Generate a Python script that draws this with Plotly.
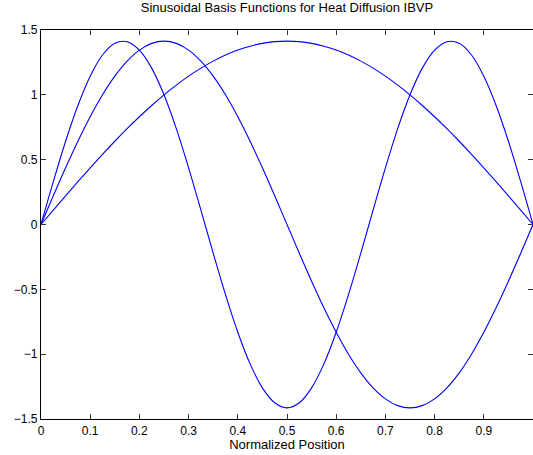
import plotly.graph_objects as go

x_pos = [0.0, 0.025, 0.05, 0.075, 0.1, 0.125, 0.15, 0.175, 0.2, 0.225,
         0.25, 0.275, 0.3, 0.325, 0.35, 0.375, 0.4, 0.425, 0.45, 0.475,
         0.5, 0.525, 0.55, 0.575, 0.6, 0.625, 0.65, 0.675, 0.7, 0.725,
         0.75, 0.775, 0.8, 0.825, 0.85, 0.875, 0.9, 0.925, 0.95, 0.975, 1.0]

mode1 = [0.0, 0.111, 0.221, 0.330, 0.437, 0.541, 0.642, 0.739, 0.831, 0.918,
         1.000, 1.075, 1.144, 1.206, 1.260, 1.307, 1.345, 1.375, 1.397, 1.410,
         1.414, 1.410, 1.397, 1.375, 1.345, 1.307, 1.260, 1.206, 1.144, 1.075,
         1.000, 0.918, 0.831, 0.739, 0.642, 0.541, 0.437, 0.330, 0.221, 0.111, 0.0]

mode2 = [0.0, 0.221, 0.437, 0.642, 0.831, 1.000, 1.144, 1.260, 1.345, 1.397,
         1.414, 1.397, 1.345, 1.260, 1.144, 1.000, 0.831, 0.642, 0.437, 0.221,
         0.0, -0.221, -0.437, -0.642, -0.831, -1.000, -1.144, -1.260, -1.345, -1.397,
         -1.414, -1.397, -1.345, -1.260, -1.144, -1.000, -0.831, -0.642, -0.437, -0.221, 0.0]

mode3 = [0.0, 0.330, 0.642, 0.918, 1.144, 1.307, 1.397, 1.410, 1.345, 1.206,
         1.000, 0.739, 0.437, 0.111, -0.221, -0.541, -0.831, -1.075, -1.260, -1.375,
         -1.414, -1.375, -1.260, -1.075, -0.831, -0.541, -0.221, 0.111, 0.437, 0.739,
         1.000, 1.206, 1.345, 1.410, 1.397, 1.307, 1.144, 0.918, 0.642, 0.330, 0.0]

x_ticks = [0, 0.1, 0.2, 0.3, 0.4, 0.5, 0.6, 0.7, 0.8, 0.9]
x_tick_text = ["0", "0.1", "0.2", "0.3", "0.4", "0.5", "0.6", "0.7", "0.8", "0.9"]
y_ticks = [-1.5, -1, -0.5, 0, 0.5, 1, 1.5]
y_tick_text = ["\u22121.5", "\u22121", "\u22120.5", "0", "0.5", "1", "1.5"]

FONT = "Liberation Sans, Arial, Helvetica, sans-serif"

fig = go.Figure()
for ys in (mode1, mode2, mode3):
    fig.add_trace(go.Scatter(x=x_pos, y=ys, mode="lines",
                             line=dict(color="#0000ff", width=1.1, shape="spline", smoothing=1.0),
                             showlegend=False, hoverinfo="skip"))

fig.update_layout(
    width=533, height=455,
    margin=dict(l=41, r=0, t=30, b=36),
    paper_bgcolor="white", plot_bgcolor="white",
    font=dict(family=FONT, size=12, color="#000000"),
    title=dict(text="Sinusoidal Basis Functions for Heat Diffusion IBVP",
               x=0.5, xref="paper", xanchor="center",
               y=1 - 7 / 455, yref="container", yanchor="middle",
               font=dict(family=FONT, size=13, color="#000000")),
    xaxis=dict(range=[0, 1], tickvals=x_ticks, ticktext=x_tick_text,
               ticks="inside", ticklen=5, tickcolor="#333333", tickwidth=1,
               showline=True, linecolor="#000000", linewidth=1.2, mirror="ticks",
               showgrid=False, zeroline=False, tickfont=dict(size=12),
               title=dict(text="Normalized Position", standoff=3,
                          font=dict(family=FONT, size=13))),
    yaxis=dict(range=[-1.5, 1.5], tickvals=y_ticks, ticktext=y_tick_text,
               ticks="inside", ticklen=5, tickcolor="#333333", tickwidth=1,
               showline=True, linecolor="#000000", linewidth=1.2, mirror="ticks",
               showgrid=False, zeroline=False, tickfont=dict(size=12)),
)

fig.write_html("out.html")
